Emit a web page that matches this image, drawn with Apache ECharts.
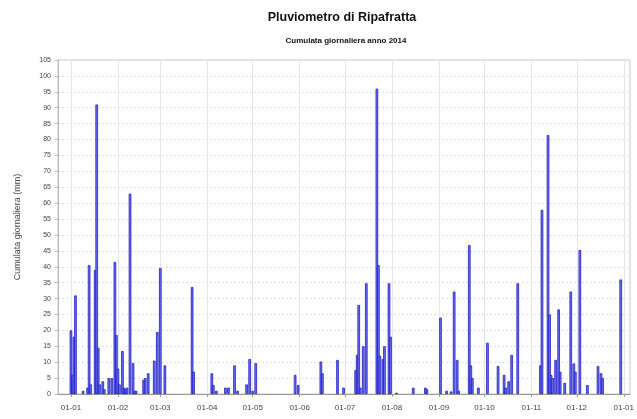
<!DOCTYPE html>
<html>
<head>
<meta charset="utf-8">
<title>Pluviometro di Ripafratta</title>
<script src="https://cdn.jsdelivr.net/npm/echarts@6/dist/echarts.min.js"></script>
<style>
  html, body { margin: 0; padding: 0; background: #ffffff; }
  #chart { width: 637px; height: 419px; }
</style>
</head>
<body>
<div id="chart"></div>
<script>
// Daily rainfall totals (mm) recorded at the Ripafratta gauge, 2014
const rainDates = [
  '2014-01-01','2014-01-02','2014-01-03','2014-01-04','2014-01-09','2014-01-12','2014-01-13','2014-01-14',
  '2014-01-17','2014-01-18','2014-01-19','2014-01-20','2014-01-22','2014-01-23','2014-01-26','2014-01-28',
  '2014-01-30','2014-01-31',
  '2014-02-01','2014-02-02','2014-02-04','2014-02-05','2014-02-06','2014-02-07','2014-02-09','2014-02-11',
  '2014-02-12','2014-02-13','2014-02-18','2014-02-19','2014-02-21','2014-02-25','2014-02-27',
  '2014-03-01','2014-03-04','2014-03-22','2014-03-23',
  '2014-04-04','2014-04-05','2014-04-07','2014-04-13','2014-04-15','2014-04-19','2014-04-21','2014-04-27',
  '2014-04-29',
  '2014-05-01','2014-05-03','2014-05-29','2014-05-31',
  '2014-06-15','2014-06-16','2014-06-26','2014-06-30',
  '2014-07-08','2014-07-09','2014-07-10','2014-07-11','2014-07-13','2014-07-15','2014-07-22','2014-07-23',
  '2014-07-24','2014-07-26','2014-07-27','2014-07-30','2014-07-31',
  '2014-08-04','2014-08-15','2014-08-23','2014-08-24',
  '2014-09-02','2014-09-06','2014-09-09','2014-09-11','2014-09-13','2014-09-14','2014-09-21','2014-09-22',
  '2014-09-23','2014-09-27',
  '2014-10-03','2014-10-10','2014-10-14','2014-10-15','2014-10-17','2014-10-19','2014-10-23',
  '2014-11-07','2014-11-08','2014-11-12','2014-11-13','2014-11-14','2014-11-15','2014-11-17','2014-11-19',
  '2014-11-20','2014-11-23','2014-11-27','2014-11-29','2014-11-30',
  '2014-12-03','2014-12-08','2014-12-15','2014-12-17','2014-12-18','2014-12-30'
];
const rainMm = [
  20, 6, 18, 31, 1, 2, 40.5, 3,
  39, 91, 14.5, 3, 4, 1.5, 5, 5,
  41.5, 18.5,
  8, 3, 13.5, 2, 1.5, 2, 63, 9.7,
  1, 1, 4.4, 5, 6.5, 10.5, 19.5,
  39.6, 9, 33.6, 7,
  6.5, 2.8, 1, 2, 2, 9, 1, 3,
  11,
  1, 9.7, 6, 2.8,
  10.2, 6.5, 10.7, 2,
  7.5, 12.3, 28, 2, 15, 34.8, 96, 40.5,
  12, 11, 15, 34.8, 18,
  0.4, 2, 2, 1.5,
  24, 1, 0.8, 32.2, 10.7, 1, 46.8, 9,
  5, 2,
  16.1, 8.8, 6, 2, 4, 12.3, 34.8,
  9, 57.9, 81.4, 25, 6, 5, 10.7, 26.6,
  7, 3.5, 32.2, 9.6, 7,
  45.3, 2.8, 8.8, 6.5, 5, 36
];

// Month starts used for the x tick labels and vertical grid
const monthStarts = [
  '2014-01-01','2014-02-01','2014-03-01','2014-04-01','2014-05-01','2014-06-01',
  '2014-07-01','2014-08-01','2014-09-01','2014-10-01','2014-11-01','2014-12-01','2015-01-01'
];

const yTicks = { min: 0, max: 105, step: 5 };

function toLocalTime(str) {
  const p = str.split('-').map(Number);
  return new Date(p[0], p[1] - 1, p[2]).getTime();
}
function pad2(n) { return (n < 10 ? '0' : '') + n; }

const DAY = 86400000;
const seriesData = rainDates.map((d, i) => [toLocalTime(d), rainMm[i]]);
const tickTimes = monthStarts.map(toLocalTime);

const FONT = '"Liberation Sans", Arial, sans-serif';

const chart = echarts.init(document.getElementById('chart'), null, { renderer: 'canvas' });

chart.setOption({
  backgroundColor: '#ffffff',
  animation: false,
  graphic: [
    {
      type: 'text', x: 342, y: 11,
      style: { text: 'Pluviometro di Ripafratta', align: 'center', fill: '#111',
               font: 'bold 12.5px ' + FONT }
    },
    {
      type: 'text', x: 346, y: 37,
      style: { text: 'Cumulata giornaliera anno 2014', align: 'center', fill: '#111',
               font: 'bold 8px ' + FONT }
    }
  ],
  grid: {
    left: 58, right: 5, top: 60, bottom: 25,
    show: true, borderColor: '#c8c8c8', borderWidth: 1, backgroundColor: '#ffffff'
  },
  // Timestamps on a plain value axis so the month ticks can be placed exactly
  xAxis: {
    type: 'value',
    min: tickTimes[0] - 8.55 * DAY,
    max: tickTimes[0] + 369.1 * DAY,
    axisLine: { show: true, onZero: false, lineStyle: { color: '#999' } },
    axisTick: { show: true, length: 3, lineStyle: { color: '#999' }, customValues: tickTimes },
    axisLabel: {
      customValues: tickTimes,
      color: '#444', fontSize: 8, fontFamily: FONT, margin: 10,
      showMinLabel: true, showMaxLabel: true,
      formatter: function (v) {
        const d = new Date(v);
        return pad2(d.getDate()) + '-' + pad2(d.getMonth() + 1);
      }
    },
    splitLine: { show: true, lineStyle: { color: '#e6e6e6', width: 1 } }
  },
  yAxis: {
    type: 'value',
    min: yTicks.min, max: yTicks.max, interval: yTicks.step,
    name: 'Cumulata giornaliera (mm)',
    nameLocation: 'middle', nameGap: 36, nameRotate: 90,
    nameTextStyle: { color: '#444', fontSize: 9, fontFamily: FONT },
    axisLine: { show: true, lineStyle: { color: '#bbb' } },
    axisTick: { show: true, length: 3, lineStyle: { color: '#bbb' } },
    axisLabel: { color: '#444', fontSize: 7, fontFamily: FONT, margin: 7 },
    splitLine: { show: true, lineStyle: { color: '#e2e2e2', type: [2, 2], width: 1 } }
  },
  series: [{
    type: 'bar',
    data: seriesData,
    barWidth: 2.6,
    itemStyle: { color: '#6f6ff2', borderColor: '#1f1fc4', borderWidth: 0.8 },
    emphasis: { disabled: true }
  }]
});
</script>
</body>
</html>
